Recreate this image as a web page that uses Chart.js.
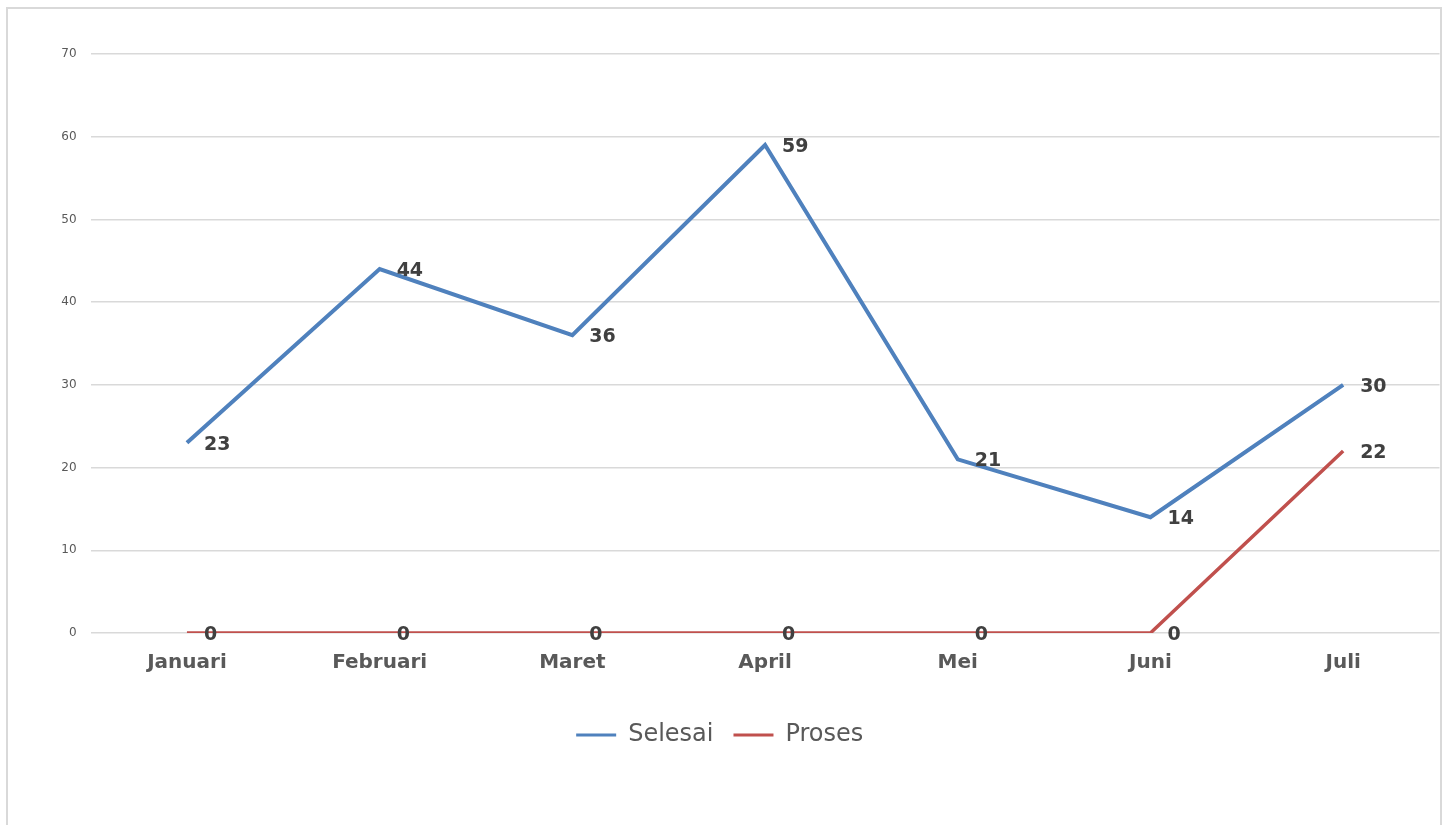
<!DOCTYPE html>
<html>
<head>
<meta charset="utf-8">
<script src="https://cdn.jsdelivr.net/npm/chart.js@4/dist/chart.umd.min.js"></script>
<style>
  html, body { margin: 0; padding: 0; background: #fff; }
  #wrap { position: relative; width: 1442px; height: 825px; overflow: hidden; }
  #frame { position: absolute; left: 6px; top: 7px; width: 1432px; height: 900px; border: 2px solid #d9d9d9; }
  canvas { position: absolute; left: 0; top: 0; }
</style>
</head>
<body>
<div id="wrap">
  <div id="frame"></div>
  <canvas id="myChart" width="1442" height="825"></canvas>
</div>
<script>
// chart data
const months = ["Januari", "Februari", "Maret", "April", "Mei", "Juni", "Juli"];
const selesai = [23, 44, 36, 59, 21, 14, 30];
const proses = [0, 0, 0, 0, 0, 0, 22];
const yTicks = [0, 10, 20, 30, 40, 50, 60, 70];

const font = "'DejaVu Sans', 'Open Sans', sans-serif";

// draws the value next to each point (like excel "right" labels)
const valueLabels = {
  id: "valueLabels",
  afterDatasetsDraw(chart) {
    const ctx = chart.ctx;
    ctx.save();
    ctx.font = "bold 19px " + font;
    ctx.fillStyle = "#404040";
    ctx.textAlign = "left";
    ctx.textBaseline = "middle";
    chart.data.datasets.forEach((ds, i) => {
      const meta = chart.getDatasetMeta(i);
      meta.data.forEach((pt, j) => {
        ctx.fillText(String(ds.data[j]), pt.x + 17, pt.y + 2);
      });
    });
    ctx.restore();
  },
};

const ctx = document.getElementById("myChart").getContext("2d");
new Chart(ctx, {
  type: "line",
  data: {
    labels: months,
    datasets: [
      {
        label: "Selesai",
        data: selesai,
        borderColor: "#4f81bd",
        backgroundColor: "#4f81bd",
        borderWidth: 4,
        pointRadius: 0,
        tension: 0,
      },
      {
        label: "Proses",
        data: proses,
        borderColor: "#c0504d",
        backgroundColor: "#c0504d",
        borderWidth: 3.5,
        pointRadius: 0,
        tension: 0,
      },
    ],
  },
  options: {
    responsive: false,
    animation: false,
    layout: { padding: { top: 54, right: 2.5, bottom: 68, left: 0 } },
    scales: {
      x: {
        offset: true,
        grid: { display: false },
        border: { display: false },
        ticks: {
          color: "#595959",
          font: { family: font, size: 20, weight: "bold" },
          padding: 10,
        },
        afterFit(scale) { scale.height = 70; },
      },
      y: {
        min: 0,
        max: 70,
        afterBuildTicks(scale) { scale.ticks = yTicks.map((v) => ({ value: v })); },
        grid: { color: "#d9d9d9", lineWidth: 1.5, drawTicks: false },
        border: { display: false },
        ticks: {
          color: "#595959",
          font: { family: font, size: 12 },
          padding: 14,
        },
        afterFit(scale) { scale.width = 90.6; },
      },
    },
    plugins: {
      legend: {
        position: "bottom",
        labels: {
          color: "#595959",
          font: { family: font, size: 24 },
          boxWidth: 40,
          boxHeight: 3,
          padding: 20,
          generateLabels(chart) {
            return chart.data.datasets.map((ds, i) => ({
              text: ds.label,
              fillStyle: ds.borderColor,
              strokeStyle: ds.borderColor,
              lineWidth: 0,
              fontColor: "#595959",
              datasetIndex: i,
              hidden: false,
            }));
          },
        },
      },
      tooltip: { enabled: false },
    },
  },
  plugins: [valueLabels],
});
</script>
</body>
</html>
